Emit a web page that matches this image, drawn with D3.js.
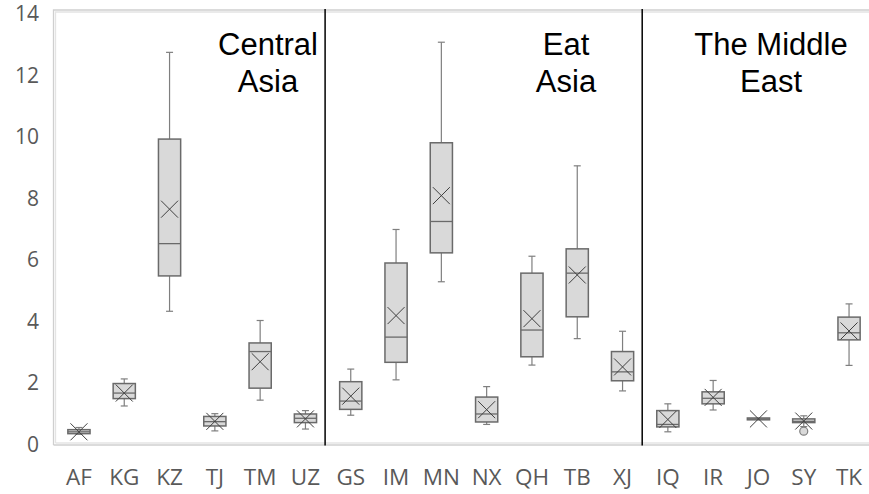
<!DOCTYPE html>
<html>
<head>
<meta charset="utf-8">
<script src="https://cdn.jsdelivr.net/npm/d3@7"></script>
<style>
  html, body { margin: 0; padding: 0; background: #fff; }
  svg { display: block; }
</style>
</head>
<body>
<svg id="chart" width="869" height="494"></svg>
<script>
// Provinces / countries, in drawing order
const categories = ["AF","KG","KZ","TJ","TM","UZ","GS","IM","MN","NX","QH","TB","XJ","IQ","IR","JO","SY","TK"];
// Five-number summaries and means
const whiskerLow  = [0.30,1.22,4.30,0.41,1.41,0.47, 0.92,2.07,5.26,0.62,2.55,3.41,1.71, 0.38,1.09,0.77,0.55,2.54];
const quartile1   = [0.32,1.46,5.45,0.57,1.80,0.68, 1.11,2.64,6.20,0.70,2.82,4.12,2.04, 0.54,1.29,0.77,0.68,3.37];
const medians     = [0.38,1.64,6.50,0.71,2.99,0.82, 1.38,3.46,7.22,0.96,3.69,5.54,2.33, 0.62,1.47,0.80,0.72,3.60];
const quartile3   = [0.45,1.95,9.90,0.88,3.27,0.96, 2.01,5.87,9.78,1.51,5.54,6.33,2.99, 1.07,1.68,0.83,0.80,4.11];
const whiskerHigh = [0.52,2.10,12.72,0.97,4.00,1.07, 2.42,6.96,13.05,1.85,6.09,9.03,3.65, 1.29,2.05,0.83,0.90,4.54];
const means       = [0.38,1.64,7.62,0.72,2.66,0.80, 1.54,4.16,8.06,1.10,4.06,5.48,2.49, 0.78,1.50,0.80,0.73,3.66];
// Outlying points: [category, value]
const outliers = [["SY", 0.40]];
// Y axis ticks
const yTicks = [0, 2, 4, 6, 8, 10, 12, 14];
// Region headings: first category of each region and its label lines
const regionStarts = ["AF", "GS", "IQ"];
const regionLabels = [["Central", "Asia"], ["Eat", "Asia"], ["The Middle", "East"]];

const svg = d3.select("#chart");

const x = d3.scaleBand().domain(categories).range([56.3, 871.7]).padding(0);
const y = d3.scaleLinear().domain([0, 14]).range([443.5, 13]);
const boxW = x.bandwidth() * 0.49;
const capW = 7;
const cx = c => x(c) + x.bandwidth() / 2;

// Plot-area frame (light double line)
const frame = svg.append("g");
[[53.5, "#cfcfcf"], [55.5, "#e4e4e4"]].forEach(([off, col], i) => {
  const top = 10 + i * 2, bot = 445 - i * 2;
  frame.append("path")
    .attr("d", `M${off},${bot}V${top}H880`)
    .attr("fill", "none").attr("stroke", col).attr("stroke-width", 1.3);
  frame.append("path")
    .attr("d", `M${off},${bot}H880`)
    .attr("fill", "none").attr("stroke", col).attr("stroke-width", 1.3);
});

// Region separators
regionStarts.slice(1).forEach(c => {
  const sx = x(c) - 3;
  svg.append("line")
    .attr("x1", sx).attr("x2", sx).attr("y1", 9).attr("y2", 445.5)
    .attr("stroke", "#000").attr("stroke-width", 1.5);
});

const tickFont = "'Open Sans', 'Noto Sans', sans-serif";

// Y axis (labels only)
const yAxis = d3.axisLeft(y).tickValues(yTicks).tickSize(0).tickPadding(0).tickFormat(d3.format("d"));
const yg = svg.append("g").attr("transform", "translate(39,0)").call(yAxis);
yg.select(".domain").remove();
yg.selectAll("text")
  .attr("fill", "#595959").attr("font-family", tickFont)
  .attr("font-size", 21).attr("dy", "0.36em");

// X axis (labels only)
const xAxis = d3.axisBottom(x).tickSize(0).tickPadding(0);
const xg = svg.append("g").attr("transform", "translate(0,469)").call(xAxis);
xg.select(".domain").remove();
xg.selectAll("text")
  .attr("fill", "#595959").attr("font-family", tickFont)
  .attr("font-size", 22.5).attr("dy", "0.71em");

// Boxes
const data = categories.map((c, i) => ({
  c, lo: whiskerLow[i], q1: quartile1[i], med: medians[i], q3: quartile3[i], hi: whiskerHigh[i], mean: means[i]
}));

const g = svg.append("g");
const stroke = "#7f7f7f";

data.forEach(d => {
  const X = cx(d.c);
  // whiskers
  g.append("line").attr("x1", X).attr("x2", X).attr("y1", y(d.q3)).attr("y2", y(d.hi))
    .attr("stroke", stroke).attr("stroke-width", 1.2);
  g.append("line").attr("x1", X).attr("x2", X).attr("y1", y(d.q1)).attr("y2", y(d.lo))
    .attr("stroke", stroke).attr("stroke-width", 1.2);
  [d.hi, d.lo].forEach(v => {
    if (v === d.q1 || v === d.q3) return;
    g.append("line").attr("x1", X - capW / 2).attr("x2", X + capW / 2).attr("y1", y(v)).attr("y2", y(v))
      .attr("stroke", stroke).attr("stroke-width", 1.2);
  });
  // box
  g.append("rect")
    .attr("x", X - boxW / 2).attr("width", boxW)
    .attr("y", y(d.q3)).attr("height", Math.max(0.5, y(d.q1) - y(d.q3)))
    .attr("fill", "#d9d9d9").attr("stroke", "#6a6a6a").attr("stroke-width", 1.5);
  // median
  g.append("line").attr("x1", X - boxW / 2).attr("x2", X + boxW / 2).attr("y1", y(d.med)).attr("y2", y(d.med))
    .attr("stroke", "#6a6a6a").attr("stroke-width", 1.3);
});

// Outliers
outliers.forEach(([c, v]) => {
  g.append("circle").attr("cx", cx(c)).attr("cy", y(v)).attr("r", 4)
    .attr("fill", "#d9d9d9").attr("stroke", "#7f7f7f").attr("stroke-width", 1.2);
});

// Mean markers
const m = 8.5;
data.forEach(d => {
  const X = cx(d.c), Y = y(d.mean);
  g.append("path")
    .attr("d", `M${X - m},${Y - m}L${X + m},${Y + m}M${X - m},${Y + m}L${X + m},${Y - m}`)
    .attr("stroke", "#404040").attr("stroke-width", 1).attr("fill", "none");
});

// Region headings
const headingX = [268, 566, 771];
regionLabels.forEach((lines, i) => {
  const t = svg.append("text")
    .attr("font-family", "'Liberation Sans', Arial, sans-serif")
    .attr("font-size", 31).attr("fill", "#000").attr("text-anchor", "middle");
  lines.forEach((ln, j) => {
    t.append("tspan").attr("x", headingX[i]).attr("y", 55 + j * 37).text(ln);
  });
});
</script>
</body>
</html>
